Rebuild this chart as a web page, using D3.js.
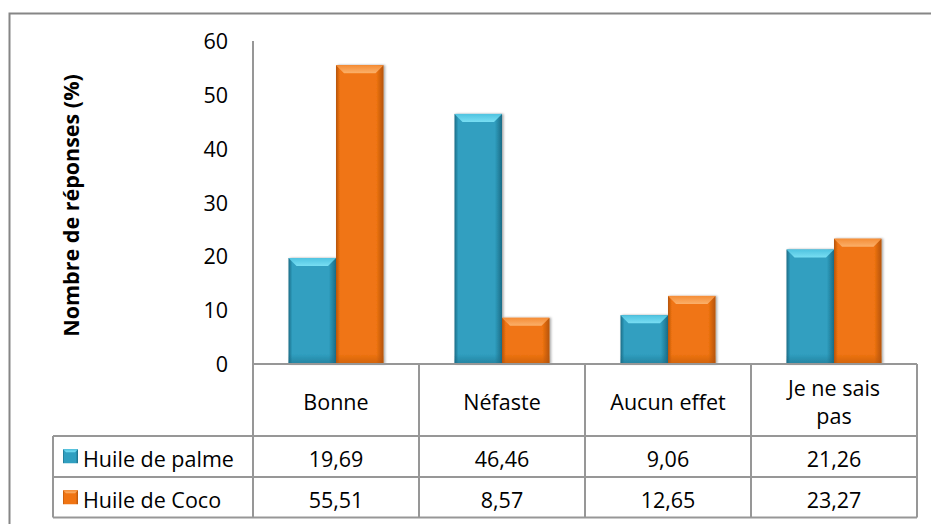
<!DOCTYPE html>
<html>
<head>
<meta charset="utf-8">
<script src="https://cdn.jsdelivr.net/npm/d3@7"></script>
<style>
  html, body { margin: 0; padding: 0; background: #fff; }
  svg { display: block; font-family: "Open Sans", "Liberation Sans", sans-serif; }
</style>
</head>
<body>
<svg id="chart" width="931" height="524"></svg>
<script>
// Perception of each oil's effect on health (share of answers, %)
const categories = ["Bonne", "Néfaste", "Aucun effet", "Je ne sais pas"];
const categoryLines = [["Bonne"], ["Néfaste"], ["Aucun effet"], ["Je ne sais", "pas"]];
const seriesNames = ["Huile de palme", "Huile de Coco"];
const palmeValues = [19.69, 46.46, 9.06, 21.26];
const cocoValues = [55.51, 8.57, 12.65, 23.27];
const valueLabels = [["19,69", "46,46", "9,06", "21,26"], ["55,51", "8,57", "12,65", "23,27"]];
const yTicks = [0, 10, 20, 30, 40, 50, 60];
const yTitle = "Nombre de réponses (%)";

const seriesValues = [palmeValues, cocoValues];
const palette = [
  { body: "#309fc0", dark: "#1b6c86", light: "#78def3", top: "#4fc3e0" },
  { body: "#f07412", dark: "#b5540a", light: "#fbb06a", top: "#f58d36" }
];

const fontSize = 21.5;
const svg = d3.select("#chart");
const gridColor = "#979797";

// outer frame (extends past the right and bottom edges)
svg.append("rect")
  .attr("x", 9.5).attr("y", 13.5)
  .attr("width", 960).attr("height", 560)
  .attr("fill", "none").attr("stroke", "#868686").attr("stroke-width", 2);

const plotLeft = 253, plotRight = 917, plotTop = 41, plotBottom = 364;
const x = d3.scaleBand().domain(categories).range([plotLeft, plotRight]).padding(0);
const bw = x.bandwidth();
const groupW = 95;
const xs = d3.scaleBand().domain(seriesNames)
  .range([(bw - groupW) / 2, (bw + groupW) / 2]).padding(0);
const y = d3.scaleLinear().domain([0, 60]).range([plotBottom, plotTop]);

// gradients for the bevelled bars
const defs = svg.append("defs");
palette.forEach((c, i) => {
  const g = defs.append("linearGradient").attr("id", "body" + i)
    .attr("x1", "0").attr("x2", "1").attr("y1", "0").attr("y2", "0");
  g.append("stop").attr("offset", "0").attr("stop-color", c.dark);
  g.append("stop").attr("offset", "0.08").attr("stop-color", c.body);
  g.append("stop").attr("offset", "0.85").attr("stop-color", c.body);
  g.append("stop").attr("offset", "1").attr("stop-color", c.dark);
  const t = defs.append("linearGradient").attr("id", "top" + i)
    .attr("x1", "0").attr("x2", "0").attr("y1", "0").attr("y2", "1");
  t.append("stop").attr("offset", "0").attr("stop-color", c.top);
  t.append("stop").attr("offset", "1").attr("stop-color", c.light);
  const v = defs.append("linearGradient").attr("id", "base" + i)
    .attr("x1", "0").attr("x2", "0").attr("y1", "0").attr("y2", "1");
  v.append("stop").attr("offset", "0").attr("stop-color", c.dark).attr("stop-opacity", 0);
  v.append("stop").attr("offset", "1").attr("stop-color", c.dark).attr("stop-opacity", 0.55);
});
const shadow = defs.append("filter").attr("id", "shadow")
  .attr("x", "-20%").attr("y", "-10%").attr("width", "150%").attr("height", "130%");
shadow.append("feDropShadow").attr("dx", 1.5).attr("dy", 0).attr("stdDeviation", 1.2)
  .attr("flood-color", "#000").attr("flood-opacity", 0.35);

// bars
const bars = svg.append("g");
seriesValues.forEach((vals, si) => {
  const g = bars.append("g");
  categories.forEach((cat, ci) => {
    const v = vals[ci];
    const x0 = x(cat) + xs(seriesNames[si]);
    const w = xs.bandwidth();
    const y0 = y(v), h = plotBottom - y0;
    const b = g.append("g").attr("filter", "url(#shadow)");
    b.append("rect").attr("x", x0).attr("y", y0).attr("width", w).attr("height", h)
      .attr("fill", `url(#body${si})`);
    b.append("rect").attr("x", x0).attr("y", plotBottom - Math.min(10, h)).attr("width", w)
      .attr("height", Math.min(10, h)).attr("fill", `url(#base${si})`);
    const bev = 8;
    b.append("path")
      .attr("d", `M${x0},${y0} L${x0 + w},${y0} L${x0 + w - bev},${y0 + bev} L${x0 + bev},${y0 + bev} Z`)
      .attr("fill", `url(#top${si})`);
  });
});

// y axis
const yAxis = svg.append("g").attr("transform", `translate(${plotLeft},0)`)
  .call(d3.axisLeft(y).tickValues(yTicks).tickSize(0).tickPadding(25));
yAxis.select(".domain").remove();
yAxis.selectAll("text").attr("font-size", fontSize).attr("fill", "#000")
  .attr("font-family", "'Open Sans', sans-serif").attr("dy", "0.35em");

svg.append("text")
  .attr("transform", `translate(79,${(plotTop + plotBottom) / 2 + 3}) rotate(-90)`)
  .attr("text-anchor", "middle").attr("font-size", 21.5).attr("font-weight", "bold")
  .text(yTitle);

// data table under the chart
const headTop = plotBottom, headBottom = 436;
const rowTops = [436, 477];
const rowH = 40.5;
const legendLeft = 53;
const grid = svg.append("g").attr("stroke", gridColor).attr("stroke-width", 2).attr("fill", "none");

// axis line down through the header row
grid.append("line").attr("x1", plotLeft).attr("x2", plotLeft)
  .attr("y1", plotTop).attr("y2", rowTops[1] + rowH);
grid.append("line").attr("x1", plotLeft).attr("x2", plotRight)
  .attr("y1", headTop).attr("y2", headTop);
categories.forEach(cat => {
  grid.append("line").attr("x1", x(cat) + bw).attr("x2", x(cat) + bw)
    .attr("y1", headTop).attr("y2", rowTops[1] + rowH);
});
[headBottom, rowTops[1], rowTops[1] + rowH].forEach(yy => {
  grid.append("line").attr("x1", legendLeft).attr("x2", plotRight)
    .attr("y1", yy).attr("y2", yy);
});
grid.append("line").attr("x1", legendLeft).attr("x2", legendLeft)
  .attr("y1", headBottom).attr("y2", rowTops[1] + rowH);

// category headers
categoryLines.forEach((lines, ci) => {
  const cx = x(categories[ci]) + bw / 2;
  const cy = (headTop + headBottom) / 2 + 2;
  const lh = 28;
  lines.forEach((ln, li) => {
    svg.append("text").attr("x", cx)
      .attr("y", cy + (li - (lines.length - 1) / 2) * lh)
      .attr("dy", "0.35em").attr("text-anchor", "middle").attr("font-size", fontSize)
      .text(ln);
  });
});

// series rows with legend keys
seriesNames.forEach((name, si) => {
  const cy = rowTops[si] + rowH / 2 + 3;
  const key = svg.append("g");
  key.append("rect").attr("x", 63).attr("y", cy - 10).attr("width", 15).attr("height", 14)
    .attr("fill", `url(#body${si})`);
  key.append("path")
    .attr("d", `M63,${cy - 10} L78,${cy - 10} L75,${cy - 7} L66,${cy - 7} Z`)
    .attr("fill", `url(#top${si})`);
  svg.append("text").attr("x", 83).attr("y", cy).attr("dy", "0.35em")
    .attr("font-size", fontSize).text(name);
  categories.forEach((cat, ci) => {
    svg.append("text").attr("x", x(cat) + bw / 2).attr("y", cy).attr("dy", "0.35em")
      .attr("text-anchor", "middle").attr("font-size", fontSize)
      .text(valueLabels[si][ci]);
  });
});
</script>
</body>
</html>
